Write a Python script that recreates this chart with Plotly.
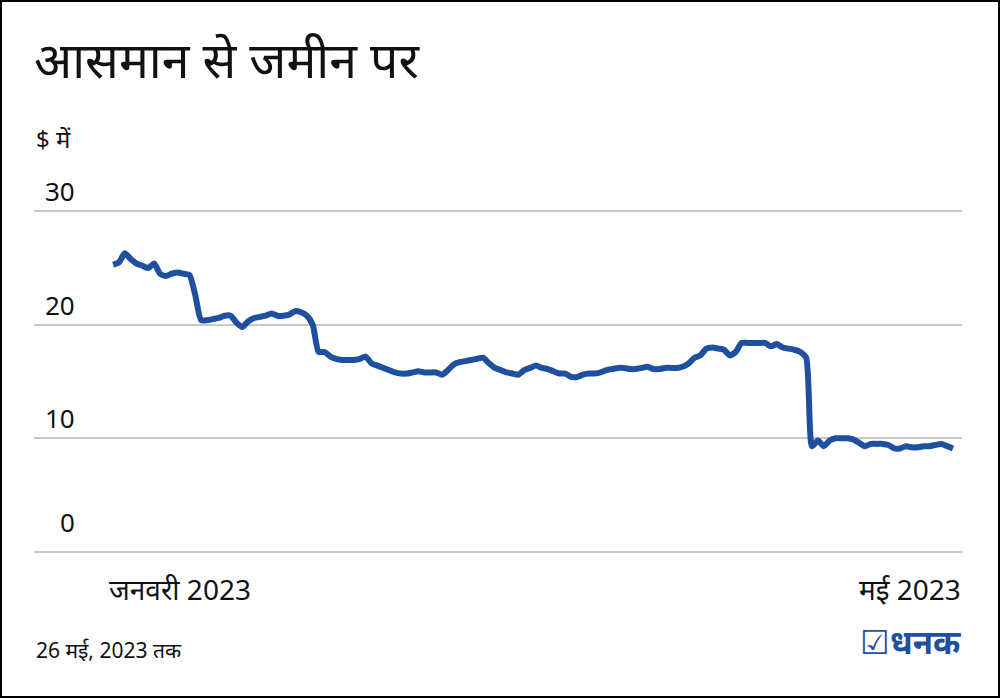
import pandas as pd
import plotly.graph_objects as go

# ---------------- data ----------------
start_date = "2023-01-03"
values = [
    25.3, 25.5, 26.3, 25.8, 25.4, 25.2, 25.0, 25.4, 24.5, 24.3,
    24.5, 24.6, 24.5, 24.4, 22.6, 20.4, 20.4, 20.5, 20.6, 20.8,
    20.8, 20.2, 19.8, 20.3, 20.6, 20.7, 20.8, 21.0, 20.8, 20.8,
    20.9, 21.2, 21.1, 20.8, 20.0, 17.6, 17.6, 17.2, 17.0, 16.9,
    16.9, 16.9, 17.0, 17.2, 16.6, 16.4, 16.2, 16.0, 15.8, 15.7,
    15.7, 15.8, 15.9, 15.8, 15.8, 15.8, 15.6, 16.0, 16.5, 16.7,
    16.8, 16.9, 17.0, 17.1, 16.6, 16.2, 16.0, 15.8, 15.7, 15.6,
    16.0, 16.2, 16.4, 16.2, 16.1, 15.9, 15.7, 15.7, 15.4, 15.4,
    15.6, 15.7, 15.7, 15.8, 16.0, 16.1, 16.2, 16.2, 16.1, 16.1,
    16.2, 16.3, 16.1, 16.1, 16.2, 16.2, 16.2, 16.3, 16.6, 17.1,
    17.3, 17.9, 18.0, 17.9, 17.8, 17.3, 17.6, 18.4, 18.4, 18.4,
    18.4, 18.4, 18.1, 18.3, 18.0, 17.9, 17.8, 17.6, 17.1, 9.3,
    9.8, 9.3, 9.8, 10.0, 10.0, 10.0, 9.9, 9.6, 9.3, 9.5,
    9.5, 9.5, 9.4, 9.1, 9.1, 9.3, 9.2, 9.2, 9.3, 9.3,
    9.4, 9.5, 9.3, 9.1,
]
dates = pd.date_range(start_date, periods=len(values), freq="D")

y_ticks = [0, 10, 20, 30]
y_tick_labels = ["0", "10", "20", "30"]
x_labels = ["जनवरी 2023", "मई 2023"]

title_text = "आसमान से जमीन पर"
unit_text = "$ में"
note_text = "26 मई, 2023 तक"
brand_mark = "☑"
brand_text = "धनक"

# ---------------- styling ----------------
W, H = 1000, 698
ML, MR, MT, MB = 34, 38, 200, 135
PW, PH = W - ML - MR, H - MT - MB
LINE_COLOR = "#1f4f9f"
FONT = "Noto Sans, Open Sans, sans-serif"


def px_x(px):
    return (px - ML) / PW


def px_y(py):
    return (H - MB - py) / PH


fig = go.Figure()
fig.add_trace(go.Scatter(
    x=dates, y=values, mode="lines",
    line=dict(color=LINE_COLOR, width=6, shape="spline", smoothing=0.6),
    hoverinfo="skip", showlegend=False,
))

x0 = pd.Timestamp("2022-12-20 13:00")
x1 = pd.Timestamp("2023-05-27 12:45")

fig.update_layout(
    width=W, height=H,
    margin=dict(l=ML, r=MR, t=MT, b=MB),
    paper_bgcolor="white", plot_bgcolor="white",
    font=dict(family=FONT, color="#111111"),
    xaxis=dict(range=[x0, x1], showgrid=False, showticklabels=False,
               zeroline=False, showline=False, ticks=""),
    yaxis=dict(range=[-1, 31], tickvals=y_ticks, showticklabels=False,
               showgrid=True, gridcolor="#c8c8c8", gridwidth=1.5,
               zeroline=False, showline=False, ticks=""),
)

annotations = []
for v, lab in zip(y_ticks, y_tick_labels):
    annotations.append(dict(
        x=px_x(77), xref="paper", y=v, yref="y", text=lab, showarrow=False,
        xanchor="right", yanchor="middle", yshift=30 if v == 0 else 20,
        font=dict(size=26, family=FONT, color="#111111"),
    ))

annotations += [
    dict(x=px_x(32), y=px_y(59), xref="paper", yref="paper", text=title_text,
         showarrow=False, xanchor="left", yanchor="middle",
         font=dict(size=50, family=FONT, color="#111111")),
    dict(x=px_x(34), y=px_y(138), xref="paper", yref="paper", text=unit_text,
         showarrow=False, xanchor="left", yanchor="middle",
         font=dict(size=24, family=FONT, color="#111111")),
    dict(x=px_x(180), y=px_y(589), xref="paper", yref="paper", text=x_labels[0],
         showarrow=False, xanchor="center", yanchor="middle",
         font=dict(size=28, family=FONT, color="#111111")),
    dict(x=px_x(963), y=px_y(589), xref="paper", yref="paper", text=x_labels[1],
         showarrow=False, xanchor="right", yanchor="middle",
         font=dict(size=28, family=FONT, color="#111111")),
    dict(x=px_x(34), y=px_y(650), xref="paper", yref="paper", text=note_text,
         showarrow=False, xanchor="left", yanchor="middle",
         font=dict(size=21, family=FONT, color="#111111")),
    dict(x=px_x(963), y=px_y(641), xref="paper", yref="paper",
         text=brand_mark + "<b>" + brand_text + "</b>",
         showarrow=False, xanchor="right", yanchor="middle",
         font=dict(size=33, family=FONT, color=LINE_COLOR)),
]
fig.update_layout(annotations=annotations)

# outer frame
fig.add_shape(type="rect", xref="paper", yref="paper",
              x0=px_x(1), x1=px_x(W - 1), y0=px_y(H - 1), y1=px_y(1),
              line=dict(color="black", width=2), fillcolor="rgba(0,0,0,0)",
              layer="above")

fig.write_html(
    "out.html",
    config={"displayModeBar": False},
    post_script="document.body.style.margin='0';document.body.style.overflow='hidden';",
)
